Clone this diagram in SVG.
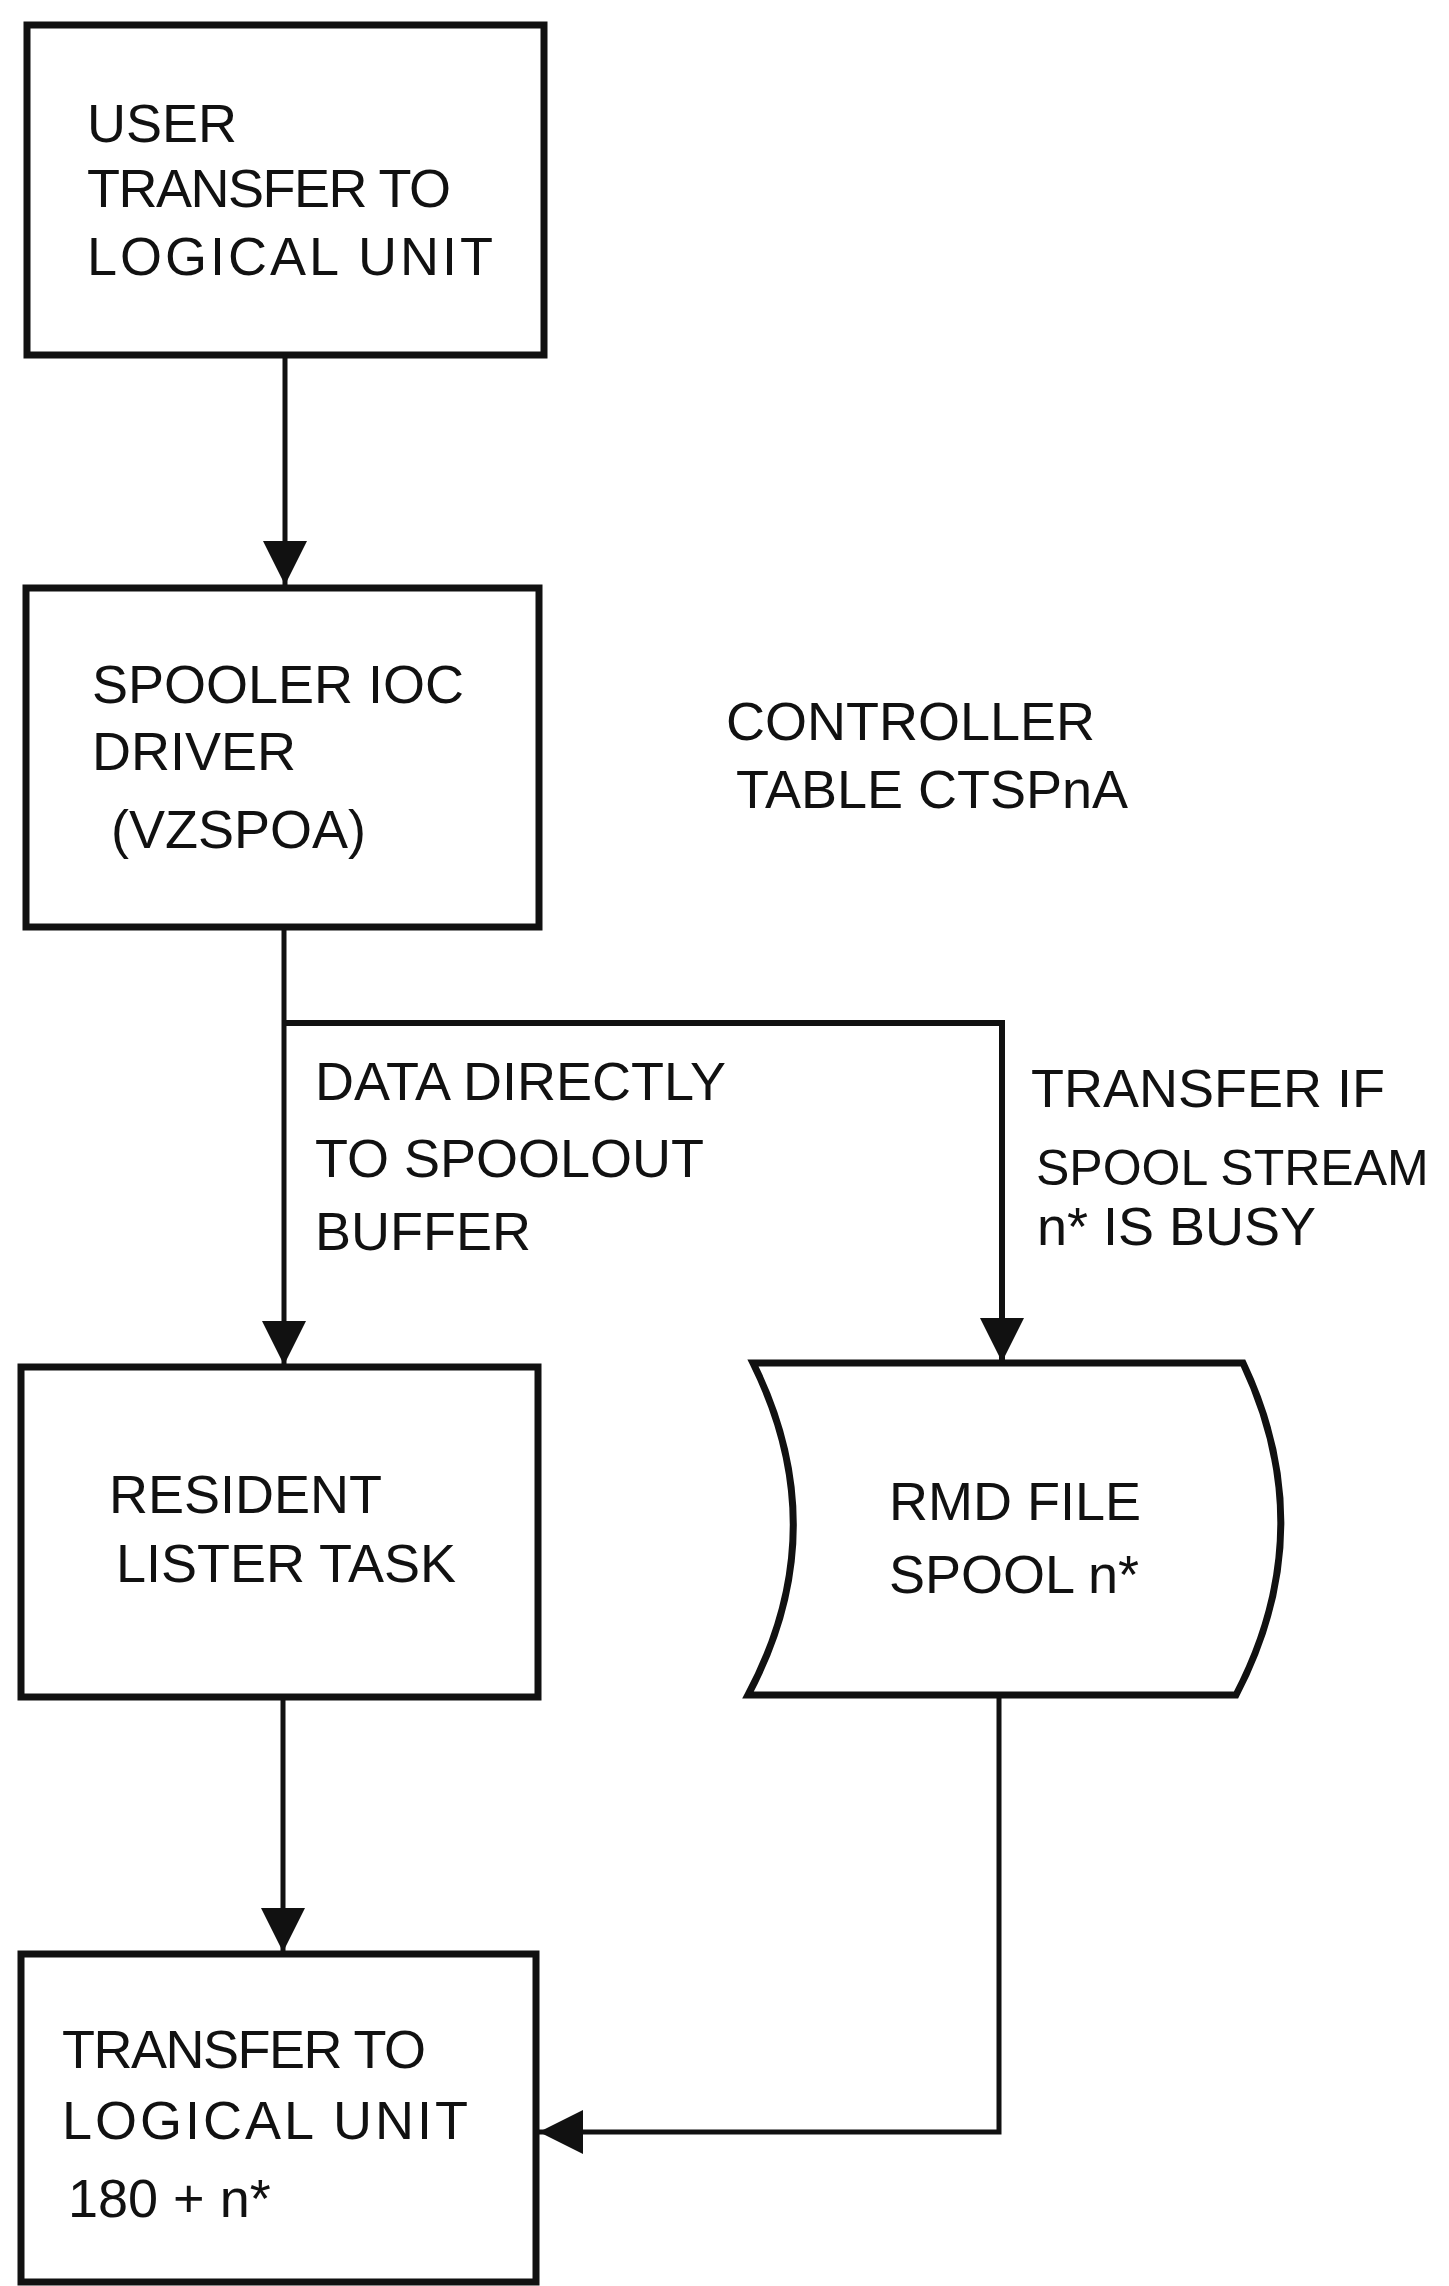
<svg xmlns="http://www.w3.org/2000/svg" width="1449" height="2286" viewBox="0 0 1449 2286">
<style>
.box{fill:#fff;stroke:#111;stroke-width:7;stroke-linejoin:miter}
.ln{fill:none;stroke:#111;stroke-width:5}
.t{font-family:"Liberation Sans",Arial,sans-serif;font-size:54px;fill:#111}
.w{letter-spacing:3px}
.n{letter-spacing:-1.5px}
</style>
<defs>
<marker id="ah" markerUnits="userSpaceOnUse" markerWidth="44" markerHeight="48" refX="44" refY="22" orient="auto" viewBox="0 0 44 44">
<path d="M0,0 L44,22 L0,44 Z" fill="#111"/>
</marker>
</defs>
<rect width="1449" height="2286" fill="#fff"/>
<g id="connectors">
<path class="ln" d="M285,355 V585" marker-end="url(#ah)"/>
<path class="ln" d="M284,927 V1365" marker-end="url(#ah)"/>
<path class="ln" d="M284,1023 H1002 V1362" marker-end="url(#ah)" style="stroke-width:6"/>
<path class="ln" d="M283,1697 V1952" marker-end="url(#ah)"/>
<path class="ln" d="M999,1695 V2132 H539" marker-end="url(#ah)"/>
</g>
<g id="n1">
<rect class="box" x="27" y="25" width="517" height="330"/>
<text class="t" x="87" y="142">USER</text>
<text class="t n" x="87" y="207">TRANSFER TO</text>
<text class="t w" x="87" y="275">LOGICAL UNIT</text>
</g>
<g id="n2">
<rect class="box" x="26" y="588" width="513" height="339"/>
<text class="t" x="92" y="703">SPOOLER IOC</text>
<text class="t" x="92" y="770">DRIVER</text>
<text class="t" x="111" y="848">(VZSPOA)</text>
</g>
<g id="note">
<text class="t" x="726" y="740">CONTROLLER</text>
<text class="t" x="736" y="808">TABLE CTSPnA</text>
</g>
<g id="lbl1">
<text class="t" x="315" y="1100">DATA  DIRECTLY</text>
<text class="t" x="315" y="1177">TO SPOOLOUT</text>
<text class="t" x="315" y="1250">BUFFER</text>
</g>
<g id="lbl2">
<text class="t" x="1031" y="1107">TRANSFER IF</text>
<text class="t" x="1036" y="1185" style="font-size:50px">SPOOL STREAM</text>
<text class="t" x="1037" y="1245">n* IS BUSY</text>
</g>
<g id="n3">
<rect class="box" x="21" y="1367" width="517" height="330"/>
<text class="t" x="109" y="1513">RESIDENT</text>
<text class="t" x="116" y="1582">LISTER TASK</text>
</g>
<g id="n4">
<path class="box" d="M753,1363 L1243,1363 Q1322,1530 1236,1695 L748,1695 Q836,1530 753,1363 Z"/>
<text class="t" x="889" y="1520">RMD FILE</text>
<text class="t" x="889" y="1593">SPOOL n*</text>
</g>
<g id="n5">
<rect class="box" x="21" y="1954" width="515" height="328"/>
<text class="t n" x="62" y="2068">TRANSFER TO</text>
<text class="t w" x="62" y="2139">LOGICAL UNIT</text>
<text class="t" x="68" y="2217">180 + n*</text>
</g>
</svg>
